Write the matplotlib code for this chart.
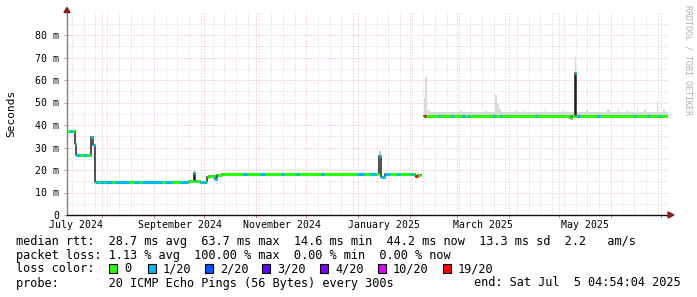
# 中文注释：按 smokeping 的 rrdtool 年度图重画延迟与丢包颜色。
import numpy as np
import pandas as pd
import matplotlib
matplotlib.use("Agg")
import matplotlib.pyplot as plt
import matplotlib.dates as mdates
from matplotlib.patches import Rectangle, Polygon
from matplotlib.transforms import IdentityTransform

# 中文注释：时间窗口
t_start = "2024-07-11 00:00"
t_end = "2025-07-05 04:54"

# 中文注释：中位 RTT（毫秒），每个值保持到下一个时间点
med_dates = ["2024-07-11 00:00", "2024-07-15 14:00", "2024-07-16 02:00", "2024-07-25 02:00",
             "2024-07-26 14:00", "2024-07-28 00:00", "2024-09-21 19:00", "2024-09-25 00:00",
             "2024-09-25 17:00", "2024-09-28 12:00", "2024-10-02 10:00", "2024-10-03 14:00",
             "2024-10-07 12:00", "2024-10-08 17:00", "2024-10-11 17:00", "2024-10-15 22:00",
             "2025-01-13 14:00", "2025-01-14 14:00", "2025-01-17 05:00", "2025-02-04 02:00",
             "2025-02-05 14:00", "2025-02-07 17:00", "2025-02-09 12:00", "2025-05-07 19:00",
             "2025-05-09 00:00", "2025-05-10 10:00", "2025-05-11 10:00"]
med_vals = [37.5, 31.5, 26.8, 34.5, 31.0, 14.7, 15.0, 18.5, 15.3, 14.7, 16.8, 17.5,
            16.1, 17.8, 18.1, 18.4, 26.4, 17.0, 18.2, 17.2, 17.8, np.nan, 44.1, 43.0,
            44.1, 63.2, 44.1]

# 中文注释：丢包颜色区段（其余为 0 丢包的绿色）
loss_start = ["2024-07-13 00:00", "2024-07-16 00:00", "2024-07-20 10:00", "2024-07-25 00:00",
              "2024-07-30 14:00", "2024-08-02 22:00", "2024-08-08 22:00", "2024-08-19 22:00",
              "2024-08-24 22:00", "2024-09-07 20:00", "2024-09-16 20:00", "2024-09-24 20:00",
              "2024-09-28 17:00", "2024-10-06 17:00", "2024-10-24 08:00", "2024-11-03 10:00",
              "2024-11-16 00:00", "2024-11-25 00:00", "2024-12-09 22:00", "2024-12-31 10:00",
              "2025-01-08 05:00", "2025-01-13 14:00", "2025-01-14 20:00", "2025-01-24 10:00",
              "2025-02-01 02:00", "2025-02-04 02:00", "2025-02-09 12:00", "2025-02-17 22:00",
              "2025-02-25 17:00", "2025-03-04 05:00", "2025-03-07 20:00", "2025-03-22 20:00",
              "2025-03-27 00:00", "2025-04-16 22:00", "2025-05-10 10:00", "2025-05-12 00:00",
              "2025-05-24 00:00", "2025-06-15 02:00", "2025-06-22 22:00", "2025-06-29 12:00"]
loss_end = ["2024-07-14 10:00", "2024-07-19 00:00", "2024-07-22 10:00", "2024-07-29 12:00",
            "2024-08-01 22:00", "2024-08-06 22:00", "2024-08-16 22:00", "2024-08-22 22:00",
            "2024-09-05 20:00", "2024-09-11 20:00", "2024-09-21 10:00", "2024-09-26 02:00",
            "2024-10-02 02:00", "2024-10-08 22:00", "2024-10-26 16:00", "2024-11-06 10:00",
            "2024-11-17 20:00", "2024-11-26 20:00", "2024-12-11 16:00", "2025-01-04 14:00",
            "2025-01-11 20:00", "2025-01-14 14:00", "2025-01-20 05:00", "2025-01-26 05:00",
            "2025-02-02 22:00", "2025-02-05 12:00", "2025-02-10 10:00", "2025-02-19 02:00",
            "2025-02-26 22:00", "2025-03-06 00:00", "2025-03-09 00:00", "2025-03-24 00:00",
            "2025-03-28 05:00", "2025-04-18 02:00", "2025-05-11 10:00", "2025-05-13 20:00",
            "2025-05-25 20:00", "2025-06-16 08:00", "2025-06-24 02:00", "2025-06-30 17:00"]
loss_level = [1, 1, 1, 1, 1, 1, 1, 1, 1, 1, 1, 1, 1, 1, 1, 1, 1, 1, 1, 1,
              1, 1, 1, 1, 1, 6, 6, 1, 1, 1, 1, 1, 1, 1, 1, 1, 1, 1, 1, 1]

# 中文注释：灰色 smoke（全部 ping 的分布上沿）
smoke_dates = ["2025-02-09 12:00", "2025-02-09 20:00", "2025-02-11 04:00", "2025-02-13 00:00",
               "2025-02-20 00:00", "2025-02-21 00:00", "2025-03-01 00:00", "2025-03-02 00:00",
               "2025-03-03 00:00", "2025-03-04 00:00", "2025-03-13 00:00", "2025-03-14 00:00",
               "2025-03-18 00:00", "2025-03-19 00:00",
               "2025-03-24 00:00", "2025-03-25 05:00", "2025-03-26 10:00", "2025-03-27 14:00",
               "2025-04-05 00:00", "2025-04-06 00:00", "2025-04-10 00:00", "2025-04-11 00:00",
               "2025-04-22 12:00", "2025-04-23 12:00", "2025-04-28 00:00", "2025-04-29 00:00",
               "2025-05-03 00:00", "2025-05-04 00:00", "2025-05-10 10:00", "2025-05-11 10:00",
               "2025-05-17 10:00", "2025-05-18 14:00", "2025-05-30 00:00", "2025-05-31 20:00",
               "2025-06-05 12:00", "2025-06-06 04:00", "2025-06-10 00:00", "2025-06-11 00:00",
               "2025-06-16 22:00", "2025-06-17 12:00", "2025-06-21 00:00", "2025-06-22 00:00",
               "2025-06-28 08:00", "2025-06-29 12:00", "2025-07-02 12:00", "2025-07-03 16:00",
               "2025-07-05 04:54"]
smoke_tops = [52.0, 61.4, 46.5, 45.6, 46.3, 45.6, 46.0, 45.6, 46.3, 45.6, 46.0, 45.6,
              46.4, 45.6, 53.3, 49.3, 47.0, 45.6, 46.2, 45.6, 46.5, 45.6, 47.0, 45.6,
              46.0, 45.6, 46.2, 45.6, 70.2, 45.6, 46.5, 45.6, 46.8, 45.6, 47.0, 45.6,
              46.2, 45.6, 47.5, 45.6, 46.5, 45.6, 50.4, 45.6, 47.0, 45.6, 45.6]
smoke_bottom = 43.2
spike_smoke_start = ["2024-09-25 00:00", "2025-01-13 14:00"]
spike_smoke_end = ["2024-09-25 17:00", "2025-01-14 14:00"]
spike_smoke_low = [18.5, 26.4]
spike_smoke_top = [19.8, 28.4]

loss_labels = ["0", "1/20", "2/20", "3/20", "4/20", "10/20", "19/20"]
loss_colors = ["#26ff00", "#00b8ff", "#0059ff", "#5e00ff", "#7e00ff", "#dd00ff", "#ff0000"]

y_ticks = [0, 10, 20, 30, 40, 50, 60, 70, 80]
y_tick_labels = ["0", "10 m", "20 m", "30 m", "40 m", "50 m", "60 m", "70 m", "80 m"]
x_labels = ["July 2024", "September 2024", "November 2024", "January 2025", "March 2025", "May 2025"]
x_label_dates = ["2024-07-16 12:00", "2024-09-16 12:00", "2024-11-16 12:00",
                 "2025-01-16 12:00", "2025-03-16 12:00", "2025-05-16 12:00"]

legend_lines = [
    "median rtt:  28.7 ms avg  63.7 ms max  14.6 ms min  44.2 ms now  13.3 ms sd  2.2   am/s",
    "packet loss: 1.13 % avg  100.00 % max  0.00 % min  0.00 % now",
]
probe_text = "probe:       20 ICMP Echo Pings (56 Bytes) every 300s"
end_text = "end: Sat Jul  5 04:54:04 2025"


def to_num(values):
    return mdates.date2num(pd.to_datetime(values).to_pydatetime())


W, H = 697, 297
MONO = "DejaVu Sans Mono"
fig = plt.figure(figsize=(W / 100, H / 100), dpi=100)
fig.patch.set_facecolor("white")
ax = fig.add_axes([67 / W, 1 - 215 / H, (668 - 67) / W, (215 - 12.5) / H])

x0, x1 = to_num([t_start, t_end])
ax.set_xlim(x0, x1)
ax.set_ylim(0, 90)

# 中文注释：网格
ax.xaxis.set_major_locator(mdates.MonthLocator())
ax.xaxis.set_minor_locator(mdates.WeekdayLocator(byweekday=mdates.SU))
ax.set_yticks(y_ticks)
ax.set_yticks([5, 15, 25, 35, 45, 55, 65, 75, 85], minor=True)
ax.set_yticklabels(y_tick_labels, family=MONO, fontsize=7.1)
ax.set_xticklabels([])
ax.grid(True, which="major", color="#efb4b4", linestyle=(0, (1, 2)), linewidth=0.72)
ax.grid(True, which="minor", color="#d4d4d4", linestyle=(0, (1, 2)), linewidth=0.72)
ax.set_axisbelow(True)
ax.tick_params(axis="both", which="major", length=2, width=0.7, color="#e09090", pad=3.5)
ax.tick_params(axis="both", which="minor", length=0)
for s in ["top", "right"]:
    ax.spines[s].set_visible(False)
ax.spines["left"].set_color("#808080")
ax.spines["bottom"].set_color("#111111")
ax.spines["left"].set_linewidth(1.0)
ax.spines["bottom"].set_linewidth(1.0)

# 中文注释：smoke
sd = to_num(smoke_dates)
ax.fill_between(sd, smoke_bottom, smoke_tops, step="post", color="#d9d9d9", linewidth=0, zorder=1)
for a, b, lo, hi in zip(to_num(spike_smoke_start), to_num(spike_smoke_end), spike_smoke_low, spike_smoke_top):
    ax.fill_between([a, b], lo, hi, color="#c8c8c8", linewidth=0, zorder=1)

# 中文注释：中位线，先画黑色阶梯，再按丢包着色
md = list(to_num(med_dates)) + [x1]
mv = list(med_vals) + [med_vals[-1]]
ax.step(md, mv, where="post", color="#202020", linewidth=1.1, zorder=2)
ls_num = to_num(loss_start)
le_num = to_num(loss_end)
for i, v in enumerate(med_vals):
    if np.isnan(v):
        continue
    a, b = md[i], md[i + 1]
    ax.hlines(v, a, b, color=loss_colors[0], linewidth=2.2, capstyle="butt", zorder=3)
    for s, e, lv in zip(ls_num, le_num, loss_level):
        lo, hi = max(a, s), min(b, e)
        if hi > lo:
            ax.hlines(v, lo, hi, color=loss_colors[lv], linewidth=2.2, capstyle="butt", zorder=3)

# 中文注释：x 轴月份标签
for d, lab in zip(to_num(x_label_dates), x_labels):
    ax.annotate(lab, xy=(d, 0), xycoords=("data", "axes fraction"), xytext=(0, -3.5),
                textcoords="offset points", ha="center", va="top", family=MONO, fontsize=7.1)

# 中文注释：坐标轴箭头
arrow_col = "#8b1a1a"
fig.add_artist(Polygon([(64, H - 12.5), (70, H - 12.5), (67, H - 7.5)], closed=True,
                       color=arrow_col, transform=IdentityTransform()))
fig.add_artist(Polygon([(668, H - 212), (668, H - 218), (674, H - 215)], closed=True,
                       color=arrow_col, transform=IdentityTransform()))

fig.text(11 / W, 1 - 113 / H, "Seconds", rotation=90, ha="center", va="center",
         family=MONO, fontsize=8)
fig.text(688 / W, 1 - 60 / H, "RRDTOOL / TOBI OETIKER", rotation=270, ha="center",
         va="center", family=MONO, fontsize=6, color="#b0b0b0")

# 中文注释：图例文本
fs = 8.55
fig.text(16 / W, 1 - 241 / H, legend_lines[0], ha="left", va="center", family=MONO, fontsize=fs)
fig.text(16 / W, 1 - 255 / H, legend_lines[1], ha="left", va="center", family=MONO, fontsize=fs)
fig.text(16 / W, 1 - 268.5 / H, "loss color:", ha="left", va="center", family=MONO, fontsize=fs)
box_x = [109, 148, 205, 262, 320, 378, 443]
for bx, lab, col in zip(box_x, loss_labels, loss_colors):
    fig.add_artist(Rectangle((bx, H - 273), 8, 9, facecolor=col, edgecolor="black",
                             linewidth=0.8, transform=IdentityTransform()))
    fig.text((bx + 15) / W, 1 - 268.5 / H, lab, ha="left", va="center", family=MONO, fontsize=fs)
fig.text(16 / W, 1 - 283 / H, probe_text, ha="left", va="center", family=MONO, fontsize=fs)
fig.text(681 / W, 1 - 283 / H, end_text, ha="right", va="center", family=MONO, fontsize=fs)

fig.savefig("out.png", dpi=100, facecolor="white")
